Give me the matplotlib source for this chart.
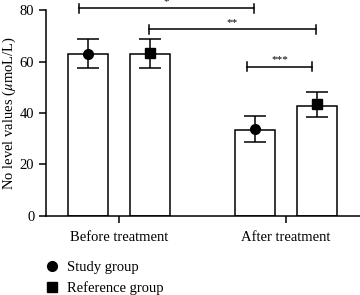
import matplotlib
matplotlib.use('Agg')
import matplotlib.pyplot as plt
from matplotlib.lines import Line2D
import numpy as np

plt.rcParams['font.family'] = ['Liberation Serif', 'DejaVu Serif']
plt.rcParams['mathtext.fontset'] = 'stix'

# data
groups = ['Before treatment', 'After treatment']
series = ['Study group', 'Reference group']
bar_means = [[62.8, 33.4],   # study
             [62.8, 42.7]]   # reference
point_vals = [[63.0, 33.9],
              [63.3, 43.4]]
err_lo = [[57.4, 28.9],
          [57.6, 38.3]]
err_hi = [[68.6, 38.7],
          [68.6, 48.0]]
markers = ['o', 's']

# significance brackets: (x start, x end, height, label)
sig_x1 = [-0.24, 0.18, 0.77]
sig_x2 = [0.81, 1.18, 1.16]
sig_y = [80.6, 72.5, 58.0]
sig_txt = ['*', '**', '***']

fig = plt.figure(figsize=(3.6, 2.95), dpi=100)
ax = fig.add_axes([0.128, 0.268, 0.872, 0.698])

x = np.arange(len(groups))
offs = [-0.186, 0.186]
w = 0.24
for i in range(2):
    xs = x + offs[i]
    ax.bar(xs, bar_means[i], width=w, color='white', edgecolor='black', linewidth=1.1, zorder=2)
    lo = np.array(point_vals[i]) - np.array(err_lo[i])
    hi = np.array(err_hi[i]) - np.array(point_vals[i])
    ax.errorbar(xs, point_vals[i], yerr=[lo, hi], fmt=markers[i], color='black',
                markersize=7 if i == 0 else 6.5, capsize=8, elinewidth=1.1, capthick=1.1, zorder=3)

for x1, x2, y, t in zip(sig_x1, sig_x2, sig_y, sig_txt):
    ax.plot([x1, x2], [y, y], color='black', lw=1.1, clip_on=False)
    ax.plot([x1, x1], [y - 1.7, y + 1.7], color='black', lw=1.1, clip_on=False)
    ax.plot([x2, x2], [y - 1.7, y + 1.7], color='black', lw=1.1, clip_on=False)
    ax.text((x1 + x2) / 2, y + 0.8, t, ha='center', va='bottom', fontsize=8, clip_on=False)

ax.set_xlim(-0.44, 1.446)
ax.set_ylim(0, 80)
ax.set_yticks([0, 20, 40, 60, 80])
ax.set_xticks(x)
ax.set_xticklabels(groups, fontsize=10.5)
ax.tick_params(axis='y', labelsize=10.5, length=5, width=1.1, direction='out')
ax.tick_params(axis='x', length=5, width=1.1, direction='out', pad=6)
ax.spines['top'].set_visible(False)
ax.spines['right'].set_visible(False)
ax.spines['left'].set_linewidth(1.1)
ax.spines['bottom'].set_linewidth(1.1)
ax.set_ylabel(r'No level values ($\mu$moL/L)', fontsize=10.5, labelpad=1)

handles = [Line2D([], [], marker=markers[0], color='black', linestyle='none', markersize=7),
           Line2D([], [], marker=markers[1], color='black', linestyle='none', markersize=6.5)]
fig.legend(handles, series, loc='upper left', bbox_to_anchor=(0.125, 0.115),
           frameon=False, fontsize=10.5, handlelength=1.0, handletextpad=0.5,
           labelspacing=0.45, borderaxespad=0, borderpad=0)

fig.savefig('out.png', dpi=100)
